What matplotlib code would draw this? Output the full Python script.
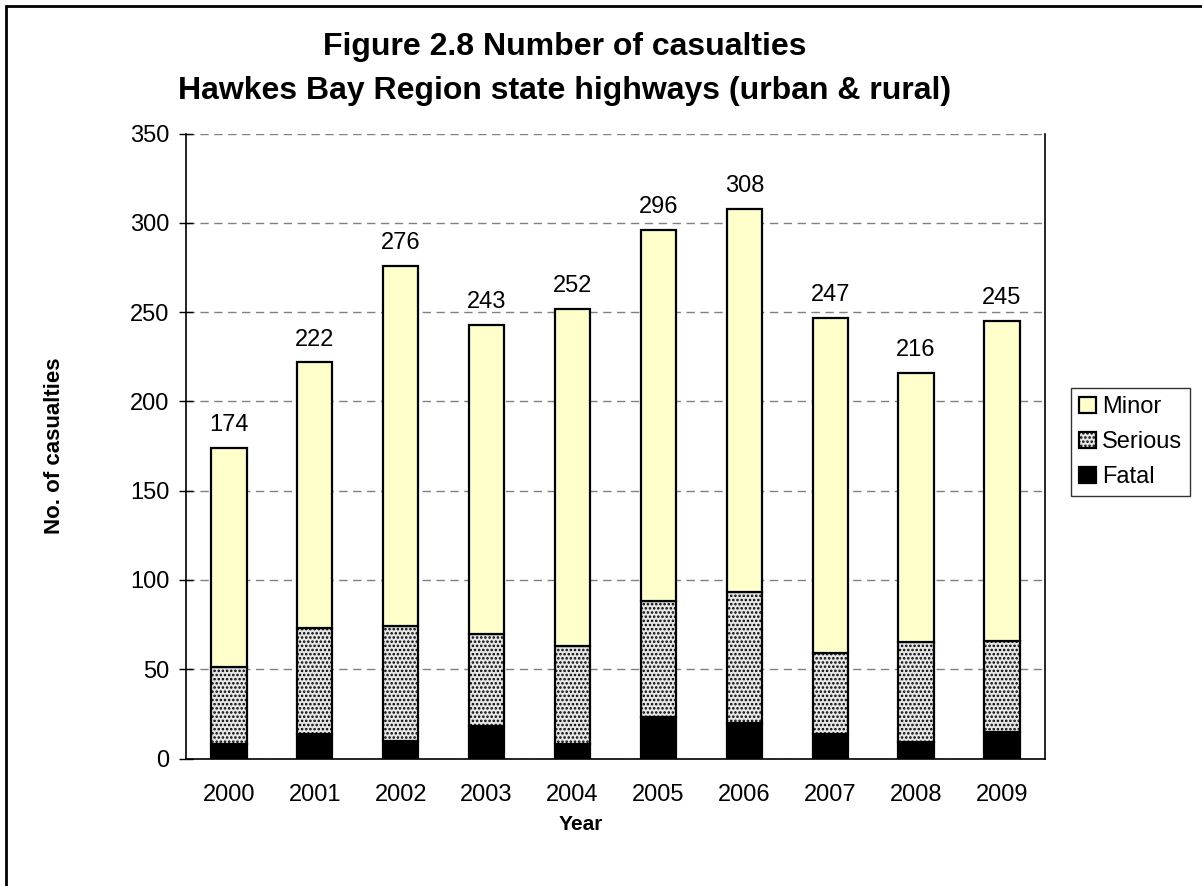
import matplotlib
matplotlib.use("Agg")
import matplotlib.pyplot as plt
from matplotlib.patches import Rectangle

plt.rcParams["font.family"] = ["Liberation Sans", "DejaVu Sans"]
plt.rcParams["hatch.linewidth"] = 1.2

years = ["2000", "2001", "2002", "2003", "2004", "2005", "2006", "2007", "2008", "2009"]
totals = [174, 222, 276, 243, 252, 296, 308, 247, 216, 245]
fatal = [8, 14, 10, 18, 8, 23, 20, 14, 9, 15]
serious = [43, 59, 64, 52, 55, 65, 73, 45, 56, 51]
minor = [t - f - s for t, f, s in zip(totals, fatal, serious)]

fig = plt.figure(figsize=(12.02, 8.86), dpi=100)
ax = fig.add_axes([0.1547, 0.1439, 0.7146, 0.7052])

x = range(len(years))
w = 0.41
b1 = ax.bar(x, fatal, w, color="black", edgecolor="black", linewidth=1.6, label="Fatal")
b2 = ax.bar(x, serious, w, bottom=fatal, color="#e6e6e6", edgecolor="black",
            hatch="....", linewidth=1.6, label="Serious")
bottom3 = [f + s for f, s in zip(fatal, serious)]
b3 = ax.bar(x, minor, w, bottom=bottom3, color="#ffffcc", edgecolor="black",
            linewidth=1.6, label="Minor")

for i, t in enumerate(totals):
    ax.annotate(str(t), (i, t), xytext=(0, 12), textcoords="offset points",
                ha="center", va="baseline", fontsize=17)

ax.set_xlim(-0.5, len(years) - 0.5)
ax.set_ylim(0, 350)
ax.set_yticks(range(0, 351, 50))
ax.set_xticks(list(x))
ax.set_xticklabels(years)
ax.tick_params(axis="y", direction="inout", length=10, width=1, labelsize=17, pad=7)
ax.tick_params(axis="x", length=0, labelsize=17, pad=18)
ax.yaxis.grid(True, linestyle=(0, (6, 4)), color="#808080", linewidth=1)
ax.set_axisbelow(True)
ax.spines["top"].set_visible(False)
for s in ["left", "bottom", "right"]:
    ax.spines[s].set_linewidth(1.2)

fig.text(0.470, 1 - 55 / 886, "Figure 2.8 Number of casualties", ha="center",
         va="baseline", fontsize=23, fontweight="bold")
fig.text(0.470, 1 - 99 / 886, "Hawkes Bay Region state highways (urban & rural)",
         ha="center", va="baseline", fontsize=23, fontweight="bold")
fig.text(581 / 1202, 1 - 830 / 886, "Year", ha="center", va="baseline",
         fontsize=15, fontweight="bold")
fig.text(55 / 1202, 1 - 446 / 886, "No. of casualties", ha="center", va="center",
         rotation=90, fontsize=16, fontweight="bold")

leg = ax.legend([b3, b2, b1], ["Minor", "Serious", "Fatal"], loc="upper left",
                bbox_to_anchor=(1071 / 1202, 1 - 388 / 886),
                bbox_transform=fig.transFigure, fontsize=17, frameon=True,
                fancybox=False, edgecolor="black", borderaxespad=0,
                handlelength=0.7, handleheight=0.7, handletextpad=0.25,
                labelspacing=0.55, borderpad=0.35)
leg.get_frame().set_linewidth(1)

# outer frame of the chart (only left and top edges show in the picture)
fig.patches.append(Rectangle((6 / 1202, -0.1), 1.2, 1 - 6 / 886 + 0.1,
                             transform=fig.transFigure, fill=False,
                             edgecolor="black", linewidth=2))

fig.savefig("out.png", dpi=100)
